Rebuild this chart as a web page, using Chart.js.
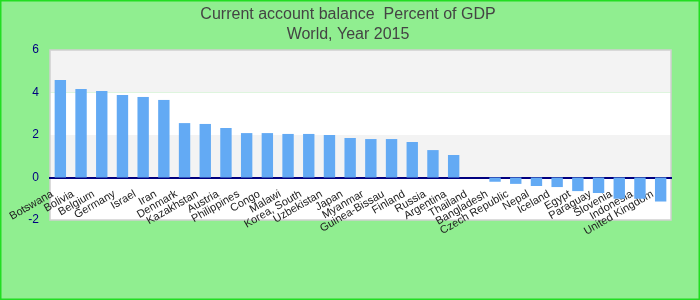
<!DOCTYPE html>
<html lang="en">
<head>
    <meta charset="UTF-8">
    <title>Current account balance</title>
    <style>
        body { margin: 0; background: #fff; }
        #balanceChart { display: block; }
    </style>
</head>
<body>
<canvas id="balanceChart" width="700" height="300"></canvas>

<script src="https://cdn.jsdelivr.net/npm/chart.js"></script>
<script>
// Data
const countries = ['Botswana', 'Bolivia', 'Belgium', 'Germany', 'Israel', 'Iran', 'Denmark', 'Kazakhstan',
    'Austria', 'Philippines', 'Congo', 'Malawi', 'Korea, South', 'Uzbekistan', 'Japan', 'Myanmar',
    'Guinea-Bissau', 'Finland', 'Russia', 'Argentina', 'Thailand', 'Bangladesh', 'Czech Republic',
    'Nepal', 'Iceland', 'Egypt', 'Paraguay', 'Slovenia', 'Indonesia', 'United Kingdom'];
const balance = [4.59, 4.16, 4.07, 3.88, 3.79, 3.65, 2.56, 2.52, 2.33, 2.09, 2.09, 2.05, 2.05, 2.0, 1.86,
    1.81, 1.81, 1.67, 1.29, 1.06, 0, -0.2, -0.3, -0.4, -0.45, -0.64, -0.73, -1.0, -1.0, -1.13];
const yTicks = [-2, 0, 2, 4, 6];
const titleLines = ['Current account balance  Percent of GDP', 'World, Year 2015'];

// green page background, alternating bands and plot frame
const backdrop = {
    id: 'backdrop',
    beforeDraw(chart) {
        const ctx = chart.ctx;
        const area = chart.chartArea;
        const y = chart.scales.y;
        ctx.save();
        ctx.fillStyle = '#90ee90';
        ctx.fillRect(0, 0, chart.width, chart.height);
        ctx.strokeStyle = '#22dd22';
        ctx.lineWidth = 1.5;
        ctx.strokeRect(0.75, 0.75, chart.width - 1.5, chart.height - 1.5);
        for (let i = 0; i < yTicks.length - 1; i++) {
            const top = y.getPixelForValue(yTicks[i + 1]);
            const bottom = y.getPixelForValue(yTicks[i]);
            ctx.fillStyle = i % 2 === 1 ? '#f3f3f3' : '#ffffff';
            ctx.fillRect(area.left, top, area.right - area.left, bottom - top);
        }
        ctx.strokeStyle = '#d0d0d0';
        ctx.lineWidth = 1.5;
        ctx.strokeRect(area.left, area.top, area.right - area.left, area.bottom - area.top);
        ctx.restore();
    }
};

new Chart(document.getElementById('balanceChart'), {
    type: 'bar',
    data: {
        labels: countries,
        datasets: [{
            data: balance,
            backgroundColor: '#63aaf4',
            barPercentage: 0.55,
            categoryPercentage: 1
        }]
    },
    options: {
        responsive: false,
        animation: false,
        layout: { padding: { left: 25, right: 29, top: 0, bottom: 80 } },
        scales: {
            x: {
                position: { y: 0 },
                afterFit: (scale) => { scale.height = 0; },
                grid: { display: true, drawOnChartArea: false, drawTicks: false, color: 'rgba(0,0,0,0)' },
                border: { display: true, color: '#000080', width: 2 },
                ticks: {
                    autoSkip: false,
                    minRotation: 30,
                    maxRotation: 30,
                    padding: 10,
                    labelOffset: -8,
                    color: '#222',
                    font: { family: 'Arial, "Liberation Sans", sans-serif', size: 11 }
                }
            },
            y: {
                min: -2,
                max: 6,
                afterFit: (scale) => { scale.width = 25; },
                grid: { display: false, drawTicks: false },
                border: { display: false },
                ticks: {
                    stepSize: 2,
                    padding: 11,
                    color: '#000080',
                    font: { family: 'Arial, "Liberation Sans", sans-serif', size: 12 }
                }
            }
        },
        plugins: {
            legend: { display: false },
            tooltip: { enabled: false },
            title: {
                display: true,
                text: titleLines,
                color: '#444',
                padding: { top: 5, bottom: 5 },
                font: { family: 'Arial, "Liberation Sans", sans-serif', size: 16, weight: 'normal', lineHeight: 1.25 }
            }
        }
    },
    plugins: [backdrop]
});
</script>
</body>
</html>
